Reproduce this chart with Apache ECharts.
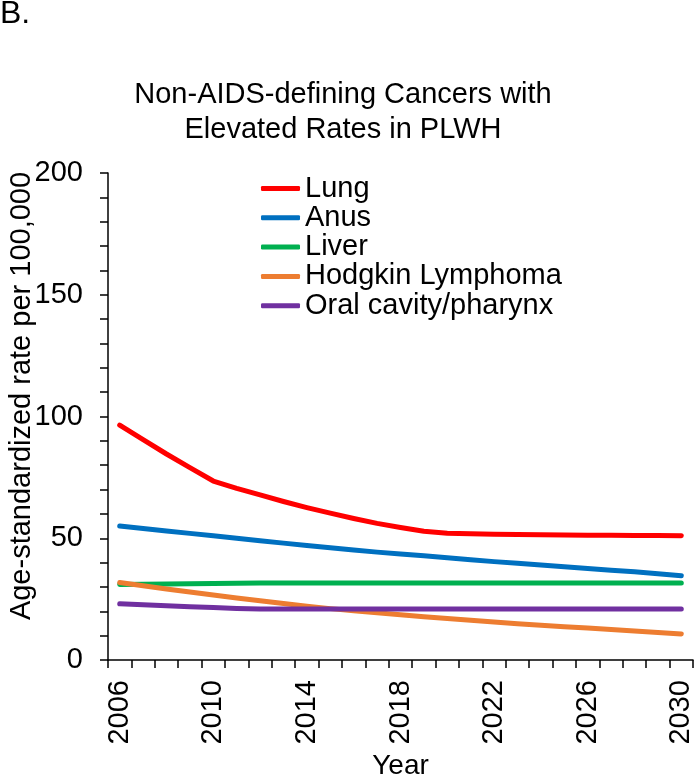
<!DOCTYPE html>
<html>
<head>
<meta charset="utf-8">
<script src="https://cdn.jsdelivr.net/npm/echarts@6/dist/echarts.min.js"></script>
<style>
html,body{margin:0;padding:0;background:#fff;}
#chart{width:696px;height:778px;}
</style>
</head>
<body>
<div id="chart"></div>
<script>
const years = ['2006','2007','2008','2009','2010','2011','2012','2013','2014','2015','2016','2017','2018','2019','2020','2021','2022','2023','2024','2025','2026','2027','2028','2029','2030'];
const lung = [96.5,90.5,84.6,79.0,73.5,70.5,67.8,65.1,62.6,60.3,58.1,56.1,54.4,52.9,52.1,51.8,51.6,51.5,51.4,51.3,51.2,51.2,51.1,51.1,51.0];
const anus = [55.0,54.0,53.0,52.0,51.0,50.0,49.0,48.0,47.0,46.1,45.2,44.3,43.5,42.8,42.0,41.2,40.4,39.7,39.0,38.3,37.6,36.9,36.2,35.4,34.6];
const liver = [31.0,31.1,31.2,31.3,31.4,31.5,31.6,31.6,31.6,31.6,31.6,31.6,31.6,31.6,31.6,31.6,31.6,31.6,31.6,31.6,31.6,31.6,31.6,31.6,31.6];
const hodgkin = [31.8,30.5,29.2,27.9,26.7,25.5,24.3,23.2,22.1,21.1,20.2,19.4,18.6,17.8,17.0,16.3,15.6,14.9,14.3,13.7,13.1,12.5,11.9,11.3,10.7];
const oral = [23.1,22.7,22.3,21.9,21.6,21.2,20.9,20.9,20.9,20.9,20.9,20.9,20.9,20.9,20.9,20.9,20.9,20.9,20.9,20.9,20.9,20.9,20.9,20.9,20.9];
const seriesNames = ['Lung','Anus','Liver','Hodgkin Lymphoma','Oral cavity/pharynx'];
const seriesData = [lung, anus, liver, hodgkin, oral];
const colors = ['#FF0000','#0070C0','#00B050','#ED7D31','#7030A0'];

const FONT = 'Liberation Sans, Arial, sans-serif';
const chart = echarts.init(document.getElementById('chart'), null, {renderer:'canvas'});
chart.setOption({
  animation: false,
  backgroundColor: '#ffffff',
  color: colors,
  title: {
    text: 'Non-AIDS-defining Cancers with\nElevated Rates in PLWH',
    left: 338, textAlign: 'center', top: 72,
    textStyle: {fontFamily: FONT, fontSize: 29, fontWeight: 'normal', color: '#000', lineHeight: 35}
  },
  legend: {
    orient: 'vertical', left: 261, top: 174, padding: 0,
    itemWidth: 39, itemHeight: 5, itemGap: 0.3, icon: 'roundRect',
    textStyle: {fontFamily: FONT, fontSize: 29, color: '#000'},
    data: seriesNames
  },
  grid: {left: 108, right: 3, top: 173, bottom: 118, containLabel: false, outerBoundsMode: 'none'},
  xAxis: {
    type: 'category', data: years, boundaryGap: true,
    name: 'Year', nameLocation: 'middle', nameGap: 88,
    nameTextStyle: {fontFamily: FONT, fontSize: 28, color: '#000'},
    axisLine: {lineStyle: {color: '#000', width: 1.5}},
    axisTick: {show: true, interval: 0, alignWithLabel: false, length: 8, lineStyle: {color: '#000', width: 1.5}},
    axisLabel: {interval: 3, rotate: 90, margin: 20, fontFamily: FONT, fontSize: 29, color: '#000'},
    splitLine: {show: false}
  },
  yAxis: {
    type: 'value', min: 0, max: 200, interval: 10,
    axisLine: {show: true, lineStyle: {color: '#000', width: 1.5}},
    axisTick: {show: true, length: 8, lineStyle: {color: '#000', width: 1.5}},
    axisLabel: {margin: 25, fontFamily: FONT, fontSize: 29, color: '#000',
      formatter: v => (v % 50 === 0 ? String(v) : '')},
    splitLine: {show: false}
  },
  graphic: [
    {type: 'text', left: 0, top: -2, style: {text: 'B.', fontFamily: FONT, fontSize: 32, fill: '#000'}},
    {type: 'text', x: 22, y: 396, rotation: Math.PI/2,
      style: {text: 'Age-standardized rate per 100,000', fontFamily: FONT, fontSize: 29, fill: '#000', align: 'center', verticalAlign: 'middle'}}
  ],
  series: seriesNames.map((n, i) => ({
    name: n, type: 'line', data: seriesData[i], showSymbol: false, symbol: 'none',
    lineStyle: {width: 5, color: colors[i], cap: 'round', join: 'round'},
    itemStyle: {color: colors[i]}
  }))
});
</script>
</body>
</html>
